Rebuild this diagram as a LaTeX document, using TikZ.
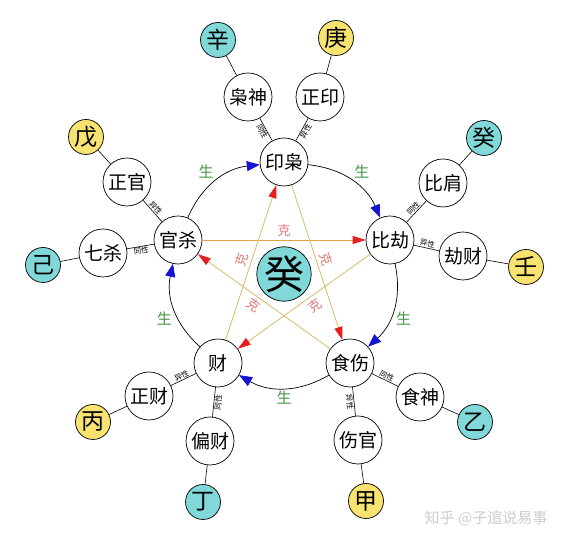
\documentclass[tikz,border=0pt]{standalone}
\usepackage{fontspec}
\newfontfamily\cjk{Noto Sans CJK SC}
\usetikzlibrary{arrows.meta}
\definecolor{stemcyan}{RGB}{128,216,216}
\definecolor{stemyellow}{RGB}{248,226,112}
\definecolor{shenggreen}{RGB}{70,150,70}
\definecolor{kepink}{RGB}{225,120,120}
\definecolor{keorange}{RGB}{232,160,70}
\definecolor{ketan}{RGB}{218,186,100}
\definecolor{arrowblue}{RGB}{20,20,210}
\definecolor{arrowred}{RGB}{230,30,30}
\definecolor{wmgray}{RGB}{205,205,205}
\begin{document}
\begin{tikzpicture}[x=1pt,y=1pt,
  godnode/.style={circle,draw=black,line width=0.7pt,fill=white,minimum size=48pt,inner sep=0pt,font=\cjk\fontsize{19}{19}\selectfont},
  stemcy/.style={circle,draw=black,line width=0.7pt,fill=stemcyan,minimum size=35pt,inner sep=0pt,font=\cjk\fontsize{23}{23}\selectfont},
  stemyl/.style={circle,draw=black,line width=0.7pt,fill=stemyellow,minimum size=35pt,inner sep=0pt,font=\cjk\fontsize{23}{23}\selectfont},
  spoke/.style={draw=black,line width=0.6pt},
  smalllbl/.style={font=\cjk\fontsize{7.5}{7.5}\selectfont,inner sep=0.6pt,sloped},
  shengarc/.style={draw=black,line width=0.7pt,-{Triangle[length=13pt,width=10pt,color=arrowblue]}},
  shenglbl/.style={font=\cjk\fontsize{15}{15}\selectfont,text=shenggreen,inner sep=2pt},
  keline/.style={draw=ketan,line width=0.8pt,-{Triangle[length=13pt,width=8pt,color=arrowred]}},
  kelbl/.style={font=\cjk\fontsize{13}{13}\selectfont,text=kepink,inner sep=3pt}
]
\fill[white] (0,0) rectangle (568,545);
\useasboundingbox (0,0) rectangle (568,545);

% inner five
\node[godnode] (yin)  at (284,383) {印枭};
\node[godnode] (bi)   at (390,305) {比劫};
\node[godnode] (shi)  at (350,182) {食伤};
\node[godnode] (cai)  at (218,182) {财};
\node[godnode] (guan) at (178,305) {官杀};
% center
\node[circle,draw=black,line width=0.7pt,fill=stemcyan,minimum size=52pt,inner sep=0pt,font=\cjk\fontsize{40}{40}\selectfont] (day) at (284,271) {癸};

% outer gods
\node[godnode] (xiaoshen)  at (248,448) {枭神};
\node[godnode] (zhengyin)  at (320,448) {正印};
\node[godnode] (bijian)    at (443,362) {比肩};
\node[godnode] (jiecai)    at (463,289) {劫财};
\node[godnode] (zhengguan) at (127,363) {正官};
\node[godnode] (qisha)     at (103,292) {七杀};
\node[godnode] (zhengcai)  at (149,149) {正财};
\node[godnode] (piancai)   at (210,104) {偏财};
\node[godnode] (shishen)   at (420,148) {食神};
\node[godnode] (shangguan) at (358,105) {伤官};

% stems
\node[stemcy] (xin)  at (218,505) {辛};
\node[stemyl] (geng) at (336,507) {庚};
\node[stemcy] (gui)  at (484,407) {癸};
\node[stemyl] (ren)  at (526,278) {壬};
\node[stemyl] (wu)   at (86,408) {戊};
\node[stemcy] (ji)   at (43,280) {己};
\node[stemyl] (bing) at (93,123) {丙};
\node[stemcy] (ding) at (203,43) {丁};
\node[stemcy] (yi)   at (475,123) {乙};
\node[stemyl] (jia)  at (366,44) {甲};

% spokes inner-outer
\draw[spoke] (xiaoshen) -- node[smalllbl,below] {同性} (yin);
\draw[spoke] (yin) -- node[smalllbl,below] {异性} (zhengyin);
\draw[spoke] (bi) -- node[smalllbl,above] {同性} (bijian);
\draw[spoke] (bi) -- node[smalllbl,above] {异性} (jiecai);
\draw[spoke] (zhengguan) -- node[smalllbl,above] {异性} (guan);
\draw[spoke] (qisha) -- node[smalllbl,below] {同性} (guan);
\draw[spoke] (zhengcai) -- node[smalllbl,above] {异性} (cai);
\draw[spoke] (cai) -- node[smalllbl,below] {同性} (piancai);
\draw[spoke] (shi) -- node[smalllbl,above] {同性} (shishen);
\draw[spoke] (shi) -- node[smalllbl,below] {异性} (shangguan);

% spokes outer-stem
\draw[spoke] (xiaoshen) -- (xin);
\draw[spoke] (zhengyin) -- (geng);
\draw[spoke] (bijian) -- (gui);
\draw[spoke] (jiecai) -- (ren);
\draw[spoke] (zhengguan) -- (wu);
\draw[spoke] (qisha) -- (ji);
\draw[spoke] (zhengcai) -- (bing);
\draw[spoke] (piancai) -- (ding);
\draw[spoke] (shishen) -- (yi);
\draw[spoke] (shangguan) -- (jia);

% sheng cycle
\draw[shengarc] (guan) to[bend left=30] node[shenglbl,midway,auto] {生} (yin);
\draw[shengarc] (yin) to[bend left=30] node[shenglbl,midway,auto] {生} (bi);
\draw[shengarc] (bi) to[bend left=30] node[shenglbl,midway,auto] {生} (shi);
\draw[shengarc] (shi) to[bend left=30] node[shenglbl,midway,auto] {生} (cai);
\draw[shengarc] (cai) to[bend left=30] node[shenglbl,midway,auto] {生} (guan);

% ke star
\draw[keline,draw=keorange] (guan) -- node[kelbl,above] {克} (bi);
\draw[keline] (bi) -- node[kelbl,sloped,below,pos=0.46] {克} (cai);
\draw[keline] (cai) -- node[kelbl,sloped,above,pos=0.5] {克} (yin);
\draw[keline] (yin) -- node[kelbl,sloped,above,pos=0.5] {克} (shi);
\draw[keline] (shi) -- node[kelbl,sloped,below,pos=0.54] {克} (guan);

% watermark
\node[font=\cjk\fontsize{15}{15}\selectfont,text=wmgray] (wm) at (486,27) {知乎 @子逭说易事};
\end{tikzpicture}
\end{document}
